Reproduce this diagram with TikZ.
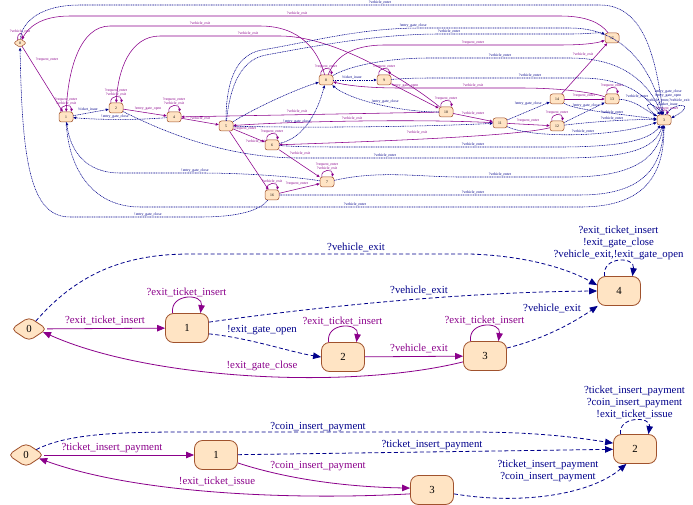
\documentclass[tikz,border=0pt]{standalone}
\usepackage{fontspec}
\setmainfont{Liberation Serif}
\usetikzlibrary{arrows.meta,shapes.geometric}

\definecolor{okcol}{HTML}{8B008B}
\definecolor{errcol}{HTML}{00008B}
\definecolor{stfill}{HTML}{FFE4C4}
\definecolor{stline}{HTML}{A0522D}

\newcommand\lblfont{\fontsize{10.8}{12}\selectfont}
\newcommand\tlblfont{\fontsize{3.8}{4.3}\selectfont}

\tikzset{
  st/.style={draw=stline, fill=stfill, rounded corners=8pt, minimum width=43pt, minimum height=29pt, inner sep=0pt, line width=.8pt, font=\lblfont},
  ini/.style={diamond, aspect=1.5, draw=stline, fill=stfill, rounded corners=5pt, minimum width=36pt, minimum height=24pt, inner sep=0pt, line width=.8pt, font=\lblfont},
  ok/.style={draw=okcol, line width=.8pt, -{Triangle[length=8pt,width=6.5pt]}},
  err/.style={draw=errcol, line width=.8pt, dash pattern=on 4pt off 2.5pt, -{Triangle[length=8pt,width=6.5pt]}},
  lok/.style={text=okcol, font=\lblfont, inner sep=1pt, align=center},
  lerr/.style={text=errcol, font=\lblfont, inner sep=1pt, align=center},
  % small automaton at the top
  tst/.style={st, rounded corners=2.5pt, minimum width=14pt, minimum height=10pt, line width=.5pt, font=\tlblfont},
  tini/.style={ini, rounded corners=2pt, minimum width=13pt, minimum height=9pt, line width=.5pt, font=\tlblfont},
  tok/.style={draw=okcol, line width=.55pt, -{Triangle[length=3pt,width=2.6pt]}},
  terr/.style={draw=errcol, line width=.55pt, dash pattern=on 1pt off .7pt, -{Triangle[length=3pt,width=2.6pt]}},
  tlok/.style={text=okcol, font=\tlblfont, inner sep=.4pt, align=center},
  tlerr/.style={text=errcol, font=\tlblfont, inner sep=.4pt, align=center}
}

\begin{document}
\begin{tikzpicture}[x=1pt, y=-1pt]
\fill[white] (0,0) rectangle (693,505);
\useasboundingbox (0,0) rectangle (693,505);

% ---- top automaton ----
\node[tini] (t0) at (20,43) {0};
\node[tst] (t1) at (66,117) {1};
\node[tst] (t2) at (116,108) {2};
\node[tst] (t3) at (664,120) {3};
\node[tst] (t4) at (174,117) {4};
\node[tst] (t5) at (226,126) {5};
\node[tst] (t6) at (272,145) {6};
\node[tst] (t7) at (327,182) {7};
\node[tst] (t8) at (326,80) {8};
\node[tst] (t9) at (384,80) {9};
\node[tst] (t10) at (446,112) {10};
\node[tst] (t11) at (500,123) {11};
\node[tst] (t12) at (557,126) {12};
\node[tst] (t13) at (612,99) {13};
\node[tst] (t14) at (557,99) {14};
\node[tst] (t15) at (612,38) {15};
\node[tst] (t16) at (272,195) {16};

% self loops
\draw[tok] (t0.125) .. controls +(-1,-8) and +(1,-8) .. (t0.55) node[tlok,pos=.5,above] {?vehicle\_exit};
\draw[tok] (t1.135) .. controls +(-1,-8) and +(1,-8) .. (t1.45) node[tlok,pos=.5,above] {?request\_enter\\?vehicle\_exit};
\draw[tok] (t2.135) .. controls +(-1,-8) and +(1,-8) .. (t2.45) node[tlok,pos=.5,above] {?request\_enter\\?vehicle\_exit};
\draw[tok] (t4.135) .. controls +(-1,-8) and +(1,-8) .. (t4.45) node[tlok,pos=.5,above] {?request\_enter\\?vehicle\_exit};
\draw[tok] (t6.135) .. controls +(-1,-8) and +(1,-8) .. (t6.45) node[tlok,pos=.5,above] {?request\_enter};
\draw[tok] (t7.135) .. controls +(-1,-8) and +(1,-8) .. (t7.45) node[tlok,pos=.5,above] {?request\_enter\\?vehicle\_exit};
\draw[tok] (t8.135) .. controls +(-1,-8) and +(1,-8) .. (t8.45) node[tlok,pos=.5,above] {?request\_enter};
\draw[tok] (t9.135) .. controls +(-1,-8) and +(1,-8) .. (t9.45) node[tlok,pos=.5,above] {?request\_enter};
\draw[tok] (t10.135) .. controls +(-1,-8) and +(1,-8) .. (t10.45) node[tlok,pos=.5,above] {?request\_enter};
\draw[tok] (t12.135) .. controls +(-1,-8) and +(1,-8) .. (t12.45) node[tlok,pos=.5,above] {?request\_enter};
\draw[tok] (t13.135) .. controls +(-1,-8) and +(1,-8) .. (t13.45) node[tlok,pos=.5,above] {?request\_enter};
\draw[tok] (t16.135) .. controls +(-1,-8) and +(1,-8) .. (t16.45) node[tlok,pos=.5,above] {?vehicle\_exit};
\draw[tok] (t3.120) .. controls +(-1,-6) and +(1,-6) .. (t3.60);
\draw[terr] (t3.150) .. controls (638,102) and (652,100) .. (t3.105);
\draw[terr] (t3.75) .. controls (676,100) and (698,104) .. (t3.15);
\node[tlerr] (hub) at (668,98) {!entry\_gate\_close\\!entry\_gate\_open\\?vehicle\_enter,?vehicle\_exit\\!ticket\_issue};
\node[tlok] (hubok) at (667,108.5) {?request\_enter};

% purple edges
\draw[tok] (t0) -- (t1) node[tlok] at (47,60) {?request\_enter};
\draw[tok] (t15) .. controls (600,22) and (585,16) .. (560,16) -- (70,16) .. controls (40,16) and (28,28) .. (t0) node[tlok] at (297,13.5) {?vehicle\_exit};
\draw[tok] (t8) .. controls (318,50) and (300,26) .. (260,26) -- (110,26) .. controls (80,26) and (68,70) .. (t1) node[tlok] at (200,23.5) {?vehicle\_exit};
\draw[tok] (t10) .. controls (400,75) and (330,36) .. (280,36) -- (160,36) .. controls (130,36) and (118,70) .. (t2) node[tlok] at (248,33.5) {?vehicle\_exit};
\draw[tok] (t8) .. controls (335,58) and (350,45) .. (385,45) -- (560,45) .. controls (590,45) and (600,42) .. (t15) node[tlok] at (473,42.5) {?request\_enter};
\draw[tok] (t2) -- (t4) node[tlok] at (148,108.5) {!entry\_gate\_open};
\draw[tok] (t4) -- (t5) node[tlok] at (200,118.5) {?vehicle\_exit};
\draw[tok] (t10) -- (t4) node[tlok] at (297,111.5) {?vehicle\_exit};
\draw[tok] (t11) .. controls (420,119) and (300,121) .. (t5) node[tlok] at (352,118.5) {?vehicle\_exit};
\draw[tok] (t5) -- (t6) node[tlok] at (245,129) {?request\_enter};
\draw[tok] (t5) -- (t16) node[tlok] at (256,141) {?vehicle\_exit};
\draw[tok] (t6) -- (t7) node[tlok] at (300,153) {?vehicle\_exit};
\draw[tok] (t16) -- (t7) node[tlok] at (297,184) {?request\_enter};
\draw[tok] (t12) .. controls (520,135) and (420,140) .. (t6) node[tlok] at (417,132) {?vehicle\_exit};
\draw[tok] (t10) -- (t11) node[tlok] at (473,113) {?vehicle\_enter};
\draw[tok] (t11) -- (t12) node[tlok] at (528,121) {?request\_enter};
\draw[tok] (t14) -- (t13) node[tlok] at (584,96) {?request\_enter};
\draw[tok] (t14) -- (t15) node[tlok] at (583,54) {?vehicle\_exit};
\draw[tok] (t13) .. controls (590,92) and (560,88) .. (520,88) -- (400,88) .. controls (365,88) and (345,85) .. (t8) node[tlok] at (473,85.5) {?vehicle\_exit};
\draw[tok] (t9) -- (t10) node[tlok] at (405,85.5) {!entry\_gate\_open};

% blue dashed edges
\draw[terr] (t0) .. controls (22,22) and (40,5) .. (80,5) -- (600,5) .. controls (645,5) and (656,60) .. (t3) node[tlerr] at (380,2.5) {?vehicle\_enter};
\draw[terr] (t1) -- (t2) node[tlerr] at (88,109) {!ticket\_issue};
\draw[terr] (t4) .. controls (140,120) and (100,120) .. (t1) node[tlerr] at (115,116.5) {!entry\_gate\_close};
\draw[terr] (t2) .. controls (170,135) and (230,158) .. (300,158) -- (560,158) .. controls (625,158) and (655,150) .. (t3) node[tlerr] at (385,155.5) {?vehicle\_enter};
\draw[terr] (t5) .. controls (226,90) and (232,55) .. (262,50) .. controls (310,42) and (360,28) .. (420,28) -- (570,28) .. controls (625,28) and (652,70) .. (t3) node[tlerr] at (413,25.5) {!entry\_gate\_close};
\draw[terr] (t5) .. controls (229,95) and (237,60) .. (266,55) .. controls (320,45) and (380,34) .. (440,34) -- (570,34) .. controls (590,34) and (600,32) .. (t15) node[tlerr] at (449,31.5) {?vehicle\_enter};
\draw[terr] (t8) .. controls (345,68) and (380,58) .. (430,58) -- (570,58) .. controls (625,58) and (650,85) .. (t3) node[tlerr] at (500,55.5) {?vehicle\_enter};
\draw[terr] (t8) -- (t9) node[tlerr] at (352,77.5) {!ticket\_issue};
\draw[terr] (t9) .. controls (410,78) and (420,78) .. (440,78) -- (580,78) .. controls (625,78) and (645,95) .. (t3) node[tlerr] at (530,75.5) {?vehicle\_enter};
\draw[terr] (t10) .. controls (400,112) and (350,100) .. (t8) node[tlerr] at (385,102) {!entry\_gate\_close};
\draw[terr] (t6) .. controls (305,138) and (318,110) .. (t8);
\draw[terr] (t5) .. controls (260,105) and (300,88) .. (t8);
\draw[terr] (t5) .. controls (300,128) and (420,127) .. (t11) node[tlerr] at (297,121.5) {!entry\_gate\_close};
\draw[terr] (t11) -- (t14) node[tlerr] at (528,104) {!entry\_gate\_close};
\draw[terr] (t12) -- (t13) node[tlerr] at (586,106) {!entry\_gate\_close};
\draw[terr] (t13) .. controls (635,100) and (645,110) .. (t3) node[tlerr] at (637,96) {?vehicle\_enter};
\draw[terr] (t14) .. controls (575,110) and (620,114) .. (t3) node[tlerr] at (612,112) {?vehicle\_enter};
\draw[terr] (t12) .. controls (590,122) and (630,119) .. (t3) node[tlerr] at (612,118.5) {?vehicle\_enter};
\draw[terr] (t11) .. controls (530,138) and (610,138) .. (t3) node[tlerr] at (583,131) {?vehicle\_enter};
\draw[terr] (t6) .. controls (300,147) and (320,147) .. (350,147) -- (560,147) .. controls (620,147) and (650,140) .. (t3) node[tlerr] at (473,144.5) {?vehicle\_enter};
\draw[terr] (t7) .. controls (380,170) and (420,177) .. (460,177) -- (570,177) .. controls (630,177) and (658,160) .. (t3) node[tlerr] at (500,174.5) {?vehicle\_enter};
\draw[terr] (t16) .. controls (300,195) .. (330,195) -- (580,195) .. controls (640,195) and (662,170) .. (t3) node[tlerr] at (473,192.5) {?vehicle\_enter};
\draw[terr] (t1) .. controls (68,165) and (90,207) .. (140,207) -- (580,207) .. controls (645,207) and (664,175) .. (t3) node[tlerr] at (355,204.5) {?vehicle\_enter};
\draw[terr] (t7) .. controls (290,176) and (240,173) .. (200,173) -- (120,173) .. controls (85,173) and (70,150) .. (t1) node[tlerr] at (195,170.5) {!entry\_gate\_close};
\draw[terr] (t16) .. controls (260,210) and (240,217) .. (200,217) -- (70,217) .. controls (30,217) and (22,160) .. (t0) node[tlerr] at (148,214.5) {!entry\_gate\_close};

% ---- exit automaton ----
\node[ini] (m0) at (29,329) {0};
\node[st] (m1) at (187,328) {1};
\node[st] (m2) at (343,357) {2};
\node[st] (m3) at (485,356) {3};
\node[st] (m4) at (619,291) {4};

\draw[ok] (m0) -- (m1) node[lok] at (105,320) {?exit\_ticket\_insert};
\draw[ok] (m1.134) .. controls +(-3,-20) and +(3,-20) .. (m1.48) node[lok,pos=.5,above] {?exit\_ticket\_insert};
\draw[err] (m1.-15) .. controls (250,338) and (290,352) .. (m2.west) node[lerr] at (262,330) {!exit\_gate\_open};
\draw[err] (m1.15) .. controls (330,305) and (470,292) .. (m4.west) node[lerr] at (419,290) {?vehicle\_exit};
\draw[err] (m0) .. controls (80,270) and (130,254) .. (190,254) -- (470,254) .. controls (530,256) and (570,270) .. (m4.165) node[lerr] at (356,247) {?vehicle\_exit};
\draw[ok] (m2.134) .. controls +(-3,-20) and +(3,-20) .. (m2.48) node[lok,pos=.5,above] {?exit\_ticket\_insert};
\draw[ok] (m2) -- (m3) node[lok] at (419,348) {?vehicle\_exit};
\draw[ok] (m3.134) .. controls +(-3,-20) and +(3,-20) .. (m3.48) node[lok,pos=.5,above] {?exit\_ticket\_insert};
\draw[err] (m3.20) .. controls (540,340) and (570,325) .. (m4.215) node[lerr] at (552,308) {?vehicle\_exit};
\draw[ok] (m3.195) .. controls (350,390) and (150,380) .. (m0.-12) node[lok] at (262,366) {!exit\_gate\_close};
\draw[err] (m4.134) .. controls +(-3,-20) and +(3,-20) .. (m4.48) node[lerr,pos=.5,above] {?exit\_ticket\_insert\\!exit\_gate\_close\\?vehicle\_exit,!exit\_gate\_open};

% ---- payment automaton ----
\node[ini] (b0) at (26,455) {0};
\node[st] (b1) at (216,455) {1};
\node[st] (b3) at (432,490) {3};
\node[st] (b2) at (635,449) {2};

\draw[ok] (b0) -- (b1) node[lok] at (112,448) {?ticket\_insert\_payment};
\draw[err] (b1) -- (b2) node[lerr] at (432,445) {?ticket\_insert\_payment};
\draw[err] (b0) .. controls (70,432) and (130,432) .. (200,432) -- (470,432) .. controls (540,432) and (580,438) .. (b2.165) node[lerr] at (318,427) {?coin\_insert\_payment};
\draw[ok] (b1.-20) .. controls (290,480) and (350,487) .. (b3.175) node[lok] at (318,466) {?coin\_insert\_payment};
\draw[ok] (b3.190) .. controls (300,500) and (140,495) .. (b0.-15) node[lok] at (217,481) {!exit\_ticket\_issue};
\draw[err] (b3.-10) .. controls (520,505) and (590,495) .. (b2.240) node[lerr] at (548,471) {?ticket\_insert\_payment\\?coin\_insert\_payment};
\draw[err] (b2.134) .. controls +(-3,-18) and +(3,-18) .. (b2.48) node[lerr,pos=.5,above] {?ticket\_insert\_payment\\?coin\_insert\_payment\\!exit\_ticket\_issue};
\end{tikzpicture}
\end{document}
